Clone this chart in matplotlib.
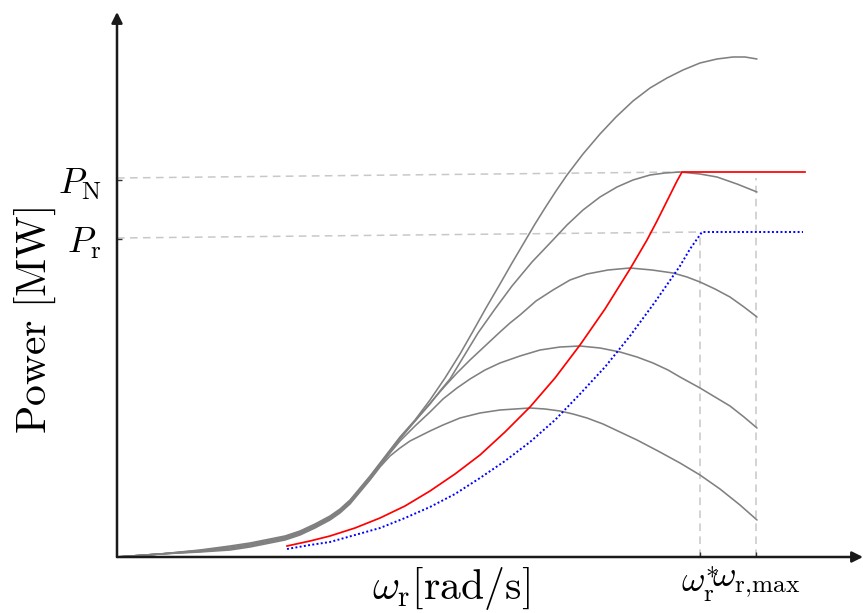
import matplotlib
matplotlib.use("Agg")
import matplotlib.pyplot as plt

plt.rcParams["mathtext.fontset"] = "cm"

# Rotor speed (x) and aerodynamic power (y) for five wind speeds
w1 = [0, 0.43, 0.83, 1.13, 1.33, 1.53, 1.68, 1.83, 1.98, 2.13, 2.23, 2.33, 2.43, 2.53, 2.63,
      2.73, 2.83, 2.98, 3.13, 3.28, 3.43, 3.55, 3.69, 3.83, 3.95, 4.08, 4.18, 4.28, 4.39,
      4.50, 4.66, 4.83, 4.99, 5.16, 5.33, 5.50, 5.66, 5.83, 6.00, 6.16, 6.28, 6.40]
p1 = [0, 0.03, 0.07, 0.11, 0.14, 0.18, 0.21, 0.26, 0.33, 0.41, 0.48, 0.57, 0.69, 0.81, 0.94,
      1.07, 1.20, 1.37, 1.57, 1.79, 2.03, 2.24, 2.49, 2.73, 2.94, 3.16, 3.33, 3.49, 3.66,
      3.82, 4.03, 4.23, 4.40, 4.56, 4.69, 4.79, 4.87, 4.94, 4.98, 5.00, 5.00, 4.98]

w2 = [0, 0.43, 0.83, 1.13, 1.33, 1.53, 1.68, 1.83, 1.98, 2.13, 2.23, 2.33, 2.43, 2.53, 2.63,
      2.73, 2.83, 2.98, 3.13, 3.23, 3.33, 3.47, 3.61, 3.78, 3.95, 4.15, 4.35, 4.50, 4.66,
      4.83, 5.00, 5.16, 5.33, 5.48, 5.63, 5.83, 6.00, 6.20, 6.40]
p2 = [0, 0.03, 0.065, 0.10, 0.13, 0.17, 0.20, 0.25, 0.32, 0.40, 0.47, 0.56, 0.68, 0.80, 0.93,
      1.06, 1.19, 1.36, 1.53, 1.66, 1.78, 2.01, 2.24, 2.48, 2.71, 2.95, 3.16, 3.32, 3.47,
      3.60, 3.70, 3.77, 3.82, 3.84, 3.85, 3.83, 3.80, 3.73, 3.65]

w3 = [0, 0.43, 0.83, 1.13, 1.33, 1.53, 1.68, 1.83, 1.98, 2.13, 2.23, 2.33, 2.43, 2.53, 2.63,
      2.73, 2.83, 2.93, 3.03, 3.15, 3.28, 3.40, 3.53, 3.68, 3.83, 3.93, 4.03, 4.19, 4.36,
      4.53, 4.70, 4.91, 5.13, 5.35, 5.56, 5.70, 5.83, 5.98, 6.13, 6.27, 6.40]
p3 = [0, 0.03, 0.06, 0.09, 0.12, 0.16, 0.19, 0.24, 0.31, 0.39, 0.46, 0.55, 0.67, 0.79, 0.92,
      1.05, 1.18, 1.30, 1.42, 1.56, 1.71, 1.84, 1.97, 2.11, 2.25, 2.34, 2.42, 2.56, 2.67,
      2.77, 2.83, 2.87, 2.89, 2.87, 2.84, 2.80, 2.75, 2.68, 2.60, 2.50, 2.40]

w4 = [0, 0.43, 0.83, 1.13, 1.33, 1.53, 1.68, 1.83, 1.98, 2.13, 2.23, 2.33, 2.43, 2.53, 2.63,
      2.73, 2.83, 2.98, 3.13, 3.26, 3.40, 3.53, 3.68, 3.83, 4.03, 4.23, 4.43, 4.63, 4.83,
      5.03, 5.20, 5.36, 5.51, 5.63, 5.83, 5.98, 6.13, 6.27, 6.40]
p4 = [0, 0.03, 0.055, 0.08, 0.11, 0.15, 0.18, 0.23, 0.30, 0.38, 0.45, 0.54, 0.66, 0.78, 0.91,
      1.04, 1.16, 1.31, 1.45, 1.58, 1.69, 1.78, 1.87, 1.94, 2.01, 2.07, 2.10, 2.11, 2.09,
      2.05, 2.00, 1.94, 1.87, 1.80, 1.69, 1.60, 1.51, 1.40, 1.29]

w5 = [0, 0.43, 0.83, 1.13, 1.33, 1.53, 1.68, 1.83, 1.98, 2.13, 2.23, 2.33, 2.43, 2.53, 2.63,
      2.73, 2.83, 2.93, 3.03, 3.13, 3.26, 3.43, 3.63, 3.83, 3.98, 4.13, 4.28, 4.43, 4.56,
      4.70, 4.86, 5.03, 5.20, 5.41, 5.63, 5.83, 6.03, 6.23, 6.40]
p5 = [0, 0.03, 0.05, 0.07, 0.10, 0.14, 0.17, 0.22, 0.29, 0.37, 0.44, 0.53, 0.65, 0.77, 0.90,
      1.01, 1.09, 1.16, 1.21, 1.26, 1.32, 1.39, 1.44, 1.47, 1.48, 1.49, 1.48, 1.46, 1.43,
      1.39, 1.33, 1.25, 1.17, 1.06, 0.94, 0.82, 0.68, 0.52, 0.37]

# Maximum power point tracking up to rated power P_N
w_mppt = [1.70, 1.93, 2.13, 2.38, 2.63, 2.88, 3.13, 3.38, 3.63, 3.88, 4.13, 4.38, 4.63, 4.88,
          5.13, 5.30, 5.40, 5.50, 5.60, 5.65, 6.88]
p_mppt = [0.11, 0.16, 0.21, 0.29, 0.39, 0.51, 0.66, 0.83, 1.02, 1.25, 1.50, 1.79, 2.12, 2.48,
          2.88, 3.17, 3.36, 3.56, 3.76, 3.85, 3.85]

# Reserve (de-loaded) operation up to P_r
w_res = [1.70, 1.93, 2.13, 2.38, 2.63, 2.88, 3.13, 3.38, 3.63, 3.88, 4.13, 4.38, 4.63, 4.88,
         5.13, 5.38, 5.63, 5.73, 5.85, 6.86]
p_res = [0.08, 0.12, 0.15, 0.22, 0.29, 0.39, 0.50, 0.63, 0.79, 0.96, 1.15, 1.37, 1.63, 1.90,
         2.21, 2.55, 2.91, 3.08, 3.25, 3.25]

# Reference levels and speeds
pn_guide_w = [0, 5.63]
pn_guide_p = [3.79, 3.85]
pr_guide_w = [0, 5.85]
pr_guide_p = [3.19, 3.25]
w_star = 5.83
w_max = 6.39
p_n_tick = 3.77
p_r_tick = 3.18

ytick_pos = [p_r_tick, p_n_tick]
ytick_lab = [r"$P_\mathrm{r}$", r"$P_\mathrm{N}$"]
xtick_pos = [w_star, w_max]
xtick_lab = [r"$\omega_\mathrm{r}^{*}$", r"$\omega_\mathrm{r{,}max}$"]

W, H = 863, 613
fig = plt.figure(figsize=(W / 100, H / 100), dpi=100)
ax = fig.add_axes([117 / W, 56 / H, 746 / W, 545 / H])
ax.set_xlim(0, 7.46)
ax.set_ylim(0, 5.45)

guide = dict(color="#c8c8c8", lw=1.1, dashes=(5, 3.5), zorder=1)
ax.plot(pn_guide_w, pn_guide_p, **guide)
ax.plot(pr_guide_w, pr_guide_p, **guide)
ax.plot([w_star, w_star], [0, pr_guide_p[1]], **guide)
ax.plot([w_max, w_max], [0, pn_guide_p[0]], **guide)

for w, p in [(w1, p1), (w2, p2), (w3, p3), (w4, p4), (w5, p5)]:
    ax.plot(w, p, color="#808080", lw=1.15, zorder=2,
            solid_joinstyle="round", solid_capstyle="round")

ax.plot(w_mppt, p_mppt, color="#ff0000", lw=1.25, zorder=3, solid_joinstyle="round")
ax.plot(w_res, p_res, color="#0000ff", lw=1.4, ls=(0, (1, 1.2)), zorder=3)

for s in ax.spines.values():
    s.set_visible(False)

arrow = dict(arrowstyle="-|>", lw=1.8, color="#1a1a1a", mutation_scale=16,
             shrinkA=0, shrinkB=0)
ax.annotate("", xy=(1, 0), xytext=(0, 0), xycoords="axes fraction",
            arrowprops=arrow, annotation_clip=False)
ax.annotate("", xy=(0, 1), xytext=(0, 0), xycoords="axes fraction",
            arrowprops=arrow, annotation_clip=False)

ax.set_xticks(xtick_pos, xtick_lab)
ax.set_yticks(ytick_pos, ytick_lab)
ax.tick_params(direction="in", length=3.5, width=1.0, color="#333333", labelsize=26)
ax.tick_params(axis="y", pad=11)
ax.tick_params(axis="x", pad=6)

fig.text(451 / W, 1 - 588 / H, r"$\omega_\mathrm{r}[\mathrm{rad/s}]$",
         fontsize=30, ha="center", va="center")
fig.text(35 / W, 1 - 320 / H, r"$\mathrm{Power\ [MW]}$",
         fontsize=30, ha="center", va="center", rotation=90)

fig.savefig("out.png", dpi=100)
